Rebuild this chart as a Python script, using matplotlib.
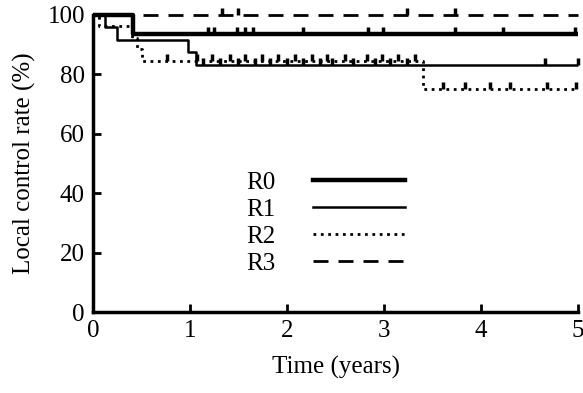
import numpy as np
import matplotlib
matplotlib.use("Agg")
import matplotlib.pyplot as plt
from matplotlib.lines import Line2D

# Kaplan-Meier step data (time in years, local control rate in %)
r0_times = [0.0, 0.41, 5.0]
r0_rates = [100.0, 93.75, 93.75]
r0_censor = [1.18, 1.25, 1.48, 1.57, 1.65, 2.16, 2.84, 2.99, 3.73, 4.23, 4.97]

r1_times = [0.0, 0.12, 0.24, 0.98, 1.06, 5.0]
r1_rates = [100.0, 95.8, 91.7, 87.5, 83.3, 83.3]
r1_censor = [1.13, 1.31, 1.49, 1.67, 1.82, 2.0, 2.16, 2.34, 2.46, 2.68,
             2.91, 3.06, 3.24, 4.66, 5.0]

r2_times = [0.0, 0.06, 0.40, 0.45, 0.50, 3.40, 5.0]
r2_rates = [100.0, 96.2, 92.3, 88.5, 84.6, 75.2, 75.2]
r2_censor = [0.76, 1.07, 1.23, 1.41, 1.57, 1.74, 1.91, 2.08, 2.26, 2.41,
             2.60, 2.82, 2.98, 3.14, 3.32, 3.61, 3.84, 4.09, 4.30, 4.68, 4.98]

r3_times = [0.0, 5.0]
r3_rates = [100.0, 100.0]
r3_censor = [1.33, 1.49, 3.24, 3.73]

labels = ['R0', 'R1', 'R2', 'R3']

plt.rcParams['font.family'] = ['Liberation Serif', 'DejaVu Serif']
plt.rcParams['font.size'] = 18

fig = plt.figure(figsize=(5.83, 3.93), dpi=100)
ax = fig.add_axes([0.16, 0.206, 0.831, 0.756])

styles = [
    dict(color='black', lw=3.2, ls='-'),
    dict(color='black', lw=1.8, ls='-'),
    dict(color='black', lw=2.0, ls=(0, (1, 1.65))),
    dict(color='black', lw=2.0, ls=(0, (5.4, 3.6))),
]

groups = [(r0_times, r0_rates, r0_censor), (r1_times, r1_rates, r1_censor),
          (r2_times, r2_rates, r2_censor), (r3_times, r3_rates, r3_censor)]

for (t, r, c), st in zip(groups, styles):
    ax.step(t, r, where='post', solid_capstyle='butt', clip_on=False, **st)
    # censor marks sit on the curve
    t_arr = np.array(t)
    r_arr = np.array(r)
    idx = np.searchsorted(t_arr, c, side='right') - 1
    ax.plot(c, r_arr[idx], linestyle='none', marker=2, color='black',
            markersize=5, markeredgewidth=2.5, clip_on=False)

handles = [Line2D([0], [0], **st) for st in styles]
ax.legend(handles, labels, loc='center', bbox_to_anchor=(0.48, 0.30),
          frameon=False, markerfirst=False, handlelength=3.7,
          handletextpad=1.5, labelspacing=0.18, fontsize=18)

ax.set_xlim(0, 5)
ax.set_ylim(0, 100)
ax.set_xticks([0, 1, 2, 3, 4, 5])
ax.set_yticks([0, 20, 40, 60, 80, 100])
ax.tick_params(direction='in', length=6, width=2, pad=6)
ax.spines['top'].set_visible(False)
ax.spines['right'].set_visible(False)
ax.spines['left'].set_linewidth(2.5)
ax.spines['bottom'].set_linewidth(2.5)

ax.set_xlabel('Time (years)', labelpad=10)
ax.set_ylabel('Local control rate (%)', labelpad=8)

fig.savefig('out.png', dpi=100)
